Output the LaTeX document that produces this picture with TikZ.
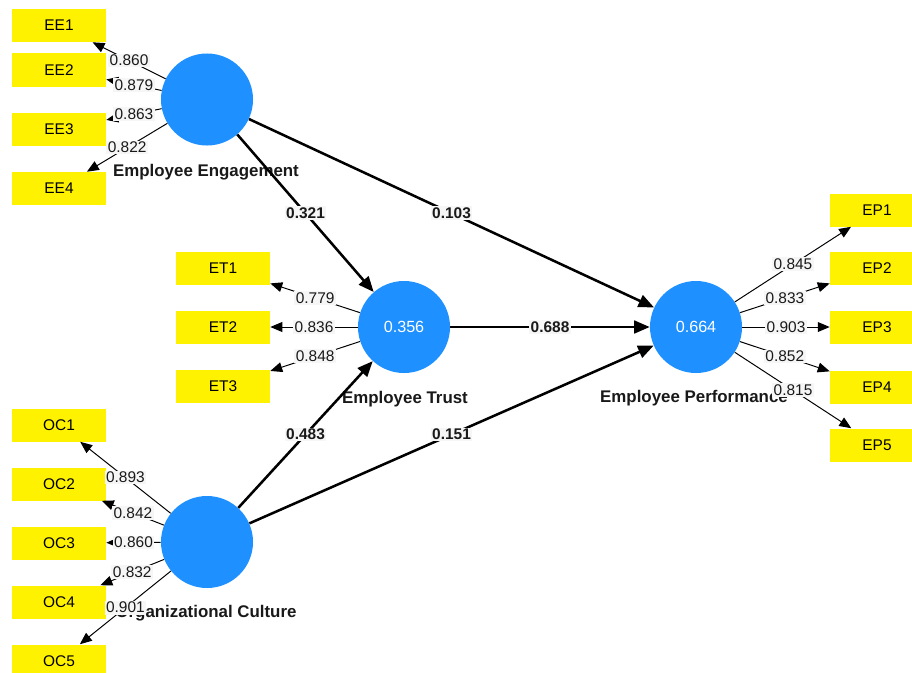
\documentclass[tikz,border=0pt]{standalone}
\usepackage{fontspec}
\setmainfont{Liberation Sans}
\usetikzlibrary{arrows.meta,positioning}

\definecolor{plsblue}{RGB}{30,144,255}
\definecolor{lblgray}{RGB}{246,246,246}

\tikzset{
  construct/.style={circle,fill=plsblue,minimum size=2.3cm,inner sep=0pt,
    text=white,font=\fontsize{11.5}{13}\selectfont},
  indicator/.style={rectangle,fill=yellow,minimum width=2.35cm,minimum height=0.825cm,
    inner sep=0pt,font=\fontsize{11}{12}\selectfont},
  conlabel/.style={font=\bfseries\fontsize{12}{14}\selectfont,text=black!90},
  loading/.style={line width=0.7pt,-{Triangle[length=8.5pt,width=7pt]}},
  structural/.style={line width=1.8pt,-{Triangle[length=11pt,width=9pt]}},
  ldlabel/.style={fill=lblgray,inner sep=1pt,text=black!90,font=\fontsize{11}{12}\selectfont},
  pathlabel/.style={ldlabel,font=\bfseries\fontsize{11}{12}\selectfont}
}

\begin{document}
\begin{tikzpicture}[x=0.025cm,y=-0.025cm]
\useasboundingbox (0,0) rectangle (912,672);

% Construct names
\node[conlabel] at (206,172) {Employee Engagement};
\node[conlabel] at (405,399) {Employee Trust};
\node[conlabel] at (694,398) {Employee Performance};
\node[conlabel] at (206,613) {Organizational Culture};

% Constructs
\node[construct] (ee) at (207,99.5) {};
\node[construct] (et) at (404,327) {0.356};
\node[construct] (ep) at (696,327) {0.664};
\node[construct] (oc) at (207,542) {};

% Indicators
\foreach \n/\y in {1/25.5,2/70,3/129.5,4/188.5}
  \node[indicator] (ee\n) at (59,\y) {EE\n};
\foreach \n/\y in {1/268,2/327,3/386.5}
  \node[indicator] (et\n) at (223,\y) {ET\n};
\foreach \n/\y in {1/425,2/484,3/543,4/602,5/661}
  \node[indicator] (oc\n) at (59,\y) {OC\n};
\foreach \n/\y in {1/210,2/268,3/327,4/387,5/445}
  \node[indicator] (ep\n) at (877,\y) {EP\n};

% Outer loadings
\foreach \n/\v in {1/0.860,2/0.879,3/0.863,4/0.822}
  \draw[loading] (ee) -- node[ldlabel] {\v} (ee\n);
\foreach \n/\v in {1/0.779,2/0.836,3/0.848}
  \draw[loading] (et) -- node[ldlabel] {\v} (et\n);
\foreach \n/\v in {1/0.893,2/0.842,3/0.860,4/0.832,5/0.901}
  \draw[loading] (oc) -- node[ldlabel] {\v} (oc\n);
\foreach \n/\v in {1/0.845,2/0.833,3/0.903,4/0.852,5/0.815}
  \draw[loading] (ep) -- node[ldlabel] {\v} (ep\n);

% Path coefficients
\draw[structural] (ee) -- node[pathlabel] {0.321} (et);
\draw[structural] (ee) -- node[pathlabel] {0.103} (ep);
\draw[structural] (et) -- node[pathlabel] {0.688} (ep);
\draw[structural] (oc) -- node[pathlabel] {0.483} (et);
\draw[structural] (oc) -- node[pathlabel] {0.151} (ep);
\end{tikzpicture}
\end{document}
